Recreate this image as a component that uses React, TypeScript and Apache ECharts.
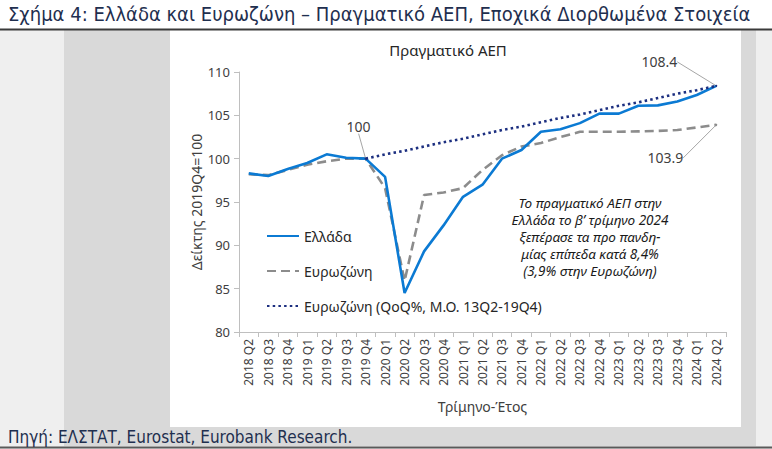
import React, { useEffect, useRef } from "react";
import * as echarts from "echarts";

const categories = [
  "2018 Q2", "2018 Q3", "2018 Q4", "2019 Q1", "2019 Q2", "2019 Q3", "2019 Q4",
  "2020 Q1", "2020 Q2", "2020 Q3", "2020 Q4", "2021 Q1", "2021 Q2", "2021 Q3",
  "2021 Q4", "2022 Q1", "2022 Q2", "2022 Q3", "2022 Q4", "2023 Q1", "2023 Q2",
  "2023 Q3", "2023 Q4", "2024 Q1", "2024 Q2",
];

const greece = [
  98.3, 98.0, 98.8, 99.5, 100.5, 100.1, 100.0, 97.9, 84.5, 89.3, 92.3, 95.6,
  97.0, 100.0, 101.0, 103.1, 103.4, 104.1, 105.2, 105.2, 106.1, 106.15, 106.6,
  107.35, 108.4,
];

const eurozone = [
  98.2, 98.1, 98.7, 99.3, 99.7, 100.0, 100.0, 96.6, 85.9, 95.8, 96.1, 96.6,
  98.7, 100.4, 101.4, 101.8, 102.5, 103.1, 103.1, 103.1, 103.15, 103.2, 103.3,
  103.6, 103.9,
];

const trend = [
  null, null, null, null, null, null, 100, 100.5, 100.9, 101.4, 101.9, 102.3,
  102.8, 103.3, 103.7, 104.2, 104.7, 105.1, 105.6, 106.1, 106.5, 107.0, 107.5,
  107.9, 108.4,
];

const seriesNames = ["Ελλάδα", "Ευρωζώνη", "Ευρωζώνη (QoQ%, Μ.Ο. 13Q2-19Q4)"];
const yTicks = { min: 80, max: 110, interval: 5 };

const FONT = "'Noto Sans', 'Open Sans', sans-serif";
const NARROW = "'Liberation Sans Narrow', 'DejaVu Sans Condensed', sans-serif";

export default function App() {
  const ref = useRef<HTMLDivElement>(null);
  useEffect(() => {
    if (!ref.current) return;
    const chart = echarts.init(ref.current, null, { renderer: "svg" });
    const lastIdx = categories.length - 1;
    const trendStart = trend.findIndex((v) => v !== null);
    const labelStyle = { fontSize: 14, color: "#404040", fontFamily: FONT };
    const option = {
      animation: false,
      textStyle: { fontFamily: FONT },
      graphic: [
        { type: "rect", z: -10, shape: { x: 0, y: 0, width: 772, height: 449 }, style: { fill: "#efefef" } },
        { type: "rect", z: -10, shape: { x: 0, y: 0, width: 772, height: 29 }, style: { fill: "#ffffff" } },
        { type: "rect", z: -10, shape: { x: 64, y: 30, width: 692, height: 416 }, style: { fill: "#d9d9d9" } },
        { type: "rect", z: -10, shape: { x: 170, y: 30, width: 571, height: 397 }, style: { fill: "#ffffff" } },
        { type: "line", z: -9, shape: { x1: 0, y1: 29.5, x2: 772, y2: 29.5 }, style: { stroke: "#3a3a3a", lineWidth: 2 } },
        { type: "line", z: -9, shape: { x1: 0, y1: 447.5, x2: 772, y2: 447.5 }, style: { stroke: "#5a5a5a", lineWidth: 2 } },
        {
          type: "text", left: 8, top: 4,
          style: { text: "Σχήμα 4: Ελλάδα και Ευρωζώνη – Πραγματικό ΑΕΠ, Εποχικά Διορθωμένα Στοιχεία", fontFamily: NARROW, fontSize: 20, fill: "#1f2f4f" },
        },
        {
          type: "text", left: 8, top: 428,
          style: { text: "Πηγή: ΕΛΣΤΑΤ, Eurostat, Eurobank Research.", fontFamily: NARROW, fontSize: 17, fill: "#1f2f4f" },
        },
        {
          type: "text", x: 590, y: 194,
          style: {
            text: "Το πραγματικό ΑΕΠ στην\nΕλλάδα το β’ τρίμηνο 2024\nξεπέρασε τα προ πανδη-\nμίας επίπεδα κατά 8,4%\n(3,9% στην Ευρωζώνη)",
            fontFamily: FONT, fontSize: 13.5, fontStyle: "italic", fill: "#1a1a1a",
            align: "center", lineHeight: 17,
          },
        },
      ],
      title: {
        text: "Πραγματικό ΑΕΠ",
        left: 443, top: 37, textAlign: "center",
        textStyle: { fontFamily: FONT, fontSize: 15, fontWeight: "normal", color: "#262626" },
      },
      legend: {
        orient: "vertical", left: 261, top: 224, itemGap: 21, itemWidth: 32, itemHeight: 14,
        data: seriesNames,
        itemStyle: { opacity: 0, color: "rgba(0,0,0,0)", borderWidth: 0 },
        textStyle: { fontFamily: FONT, fontSize: 14, color: "#262626" },
      },
      grid: { left: 239, right: 46, top: 72, bottom: 117 },
      xAxis: {
        type: "category", data: categories, boundaryGap: true,
        axisLine: { lineStyle: { color: "#bfbfbf" } },
        axisTick: { show: true, lineStyle: { color: "#bfbfbf" } },
        axisLabel: { rotate: 90, interval: 0, fontSize: 12, color: "#404040", fontFamily: FONT, margin: 7 },
        name: "Τρίμηνο-Έτος", nameLocation: "middle", nameGap: 67,
        nameTextStyle: { fontSize: 14, color: "#404040", fontFamily: FONT },
      },
      yAxis: {
        type: "value", min: yTicks.min, max: yTicks.max, interval: yTicks.interval,
        splitLine: { show: false },
        axisLine: { show: true, lineStyle: { color: "#bfbfbf" } },
        axisTick: { show: true, lineStyle: { color: "#bfbfbf" } },
        axisLabel: { fontSize: 13, color: "#404040", fontFamily: FONT, margin: 9 },
        name: "Δείκτης 2019Q4=100", nameLocation: "middle", nameRotate: 90, nameGap: 36,
        nameMoveOverlap: false,
        nameTextStyle: { fontSize: 14, color: "#404040", fontFamily: FONT },
      },
      series: [
        {
          name: seriesNames[0], type: "line", data: greece, symbol: "none", z: 3,
          lineStyle: { color: "#0b7ad3", width: 2.6 }, itemStyle: { color: "#0b7ad3" },
        },
        {
          name: seriesNames[1], type: "line", symbol: "none", z: 2,
          data: eurozone.map((v, i) =>
            i === lastIdx
              ? { value: v, symbol: "circle", symbolSize: 2, label: { show: true, position: "left", ...labelStyle } }
              : v
          ),
          lineStyle: { color: "#8c8c8c", width: 2.6, type: [9, 5] }, itemStyle: { color: "#8c8c8c" },
          label: { show: false, ...labelStyle },
          labelLine: { show: true, lineStyle: { color: "#a6a6a6", width: 1 } },
          labelLayout: (p: any) => (p.dataIndex === lastIdx ? { dx: -27, dy: 33 } : {}),
        },
        {
          name: seriesNames[2], type: "line", symbol: "none", z: 4,
          data: trend.map((v, i) =>
            i === lastIdx || i === trendStart
              ? { value: v, symbol: "circle", symbolSize: 2, label: { show: true, position: i === lastIdx ? "left" : "top", ...labelStyle } }
              : v
          ),
          lineStyle: { color: "#1c2f80", width: 2.6, type: [2.5, 3.2] }, itemStyle: { color: "#1c2f80" },
          label: { show: false, ...labelStyle },
          labelLine: { show: true, lineStyle: { color: "#a6a6a6", width: 1 } },
          labelLayout: (p: any) =>
            p.dataIndex === lastIdx ? { dx: -33, dy: -24 } : p.dataIndex === trendStart ? { dx: -7, dy: -19 } : {},
        },
      ],
    };
    chart.setOption(option as any);
    return () => chart.dispose();
  }, []);
  return (
    <div
      ref={ref}
      style={{ position: "absolute", left: 0, top: 0, width: 772, height: 449 }}
    />
  );
}
